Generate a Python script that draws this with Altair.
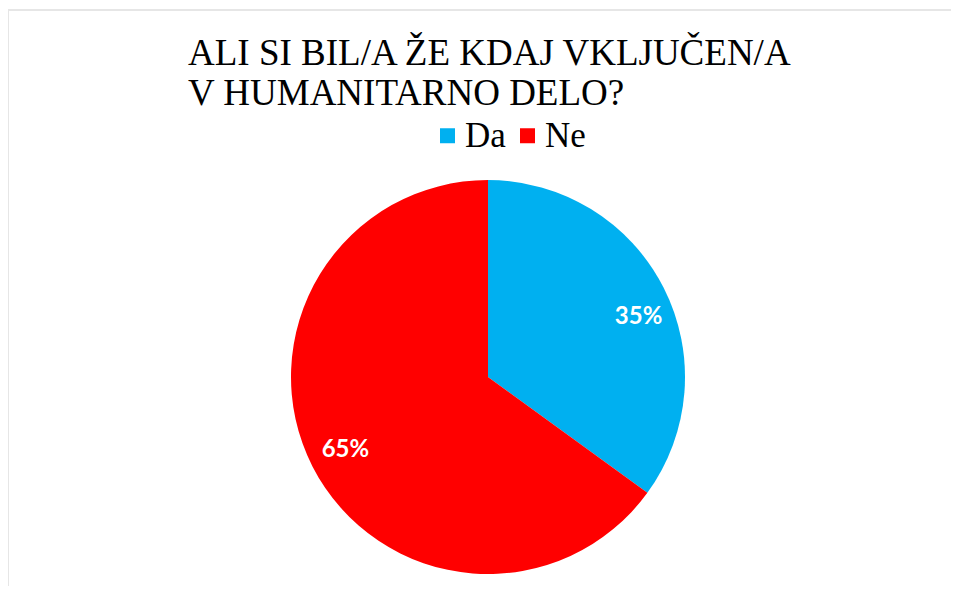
import altair as alt
import pandas as pd

# --- data ---
categories = ["Da", "Ne"]
values = [35, 65]
labels = ["35%", "65%"]
colors = ["#00B0F0", "#FF0000"]
title_lines = ["ALI SI BIL/A ŽE KDAJ VKLJUČEN/A", "V HUMANITARNO DELO?"]

W, H = 943, 578
CX, CY, R = 480, 369, 197
SERIF = "'Liberation Serif', 'Times New Roman', serif"

df = pd.DataFrame({"odgovor": categories, "delez": values, "oznaka": labels})
title_df = pd.DataFrame({"naslov": title_lines, "vrstica": list(range(len(title_lines)))})

color = alt.Color(
    "odgovor:N",
    scale=alt.Scale(domain=categories, range=colors),
    legend=alt.Legend(
        orient="none",
        legendX=422,
        legendY=110,
        direction="horizontal",
        title=None,
        symbolType="square",
        symbolSize=225,
        symbolStrokeWidth=0,
        labelFont=SERIF,
        labelFontSize=35,
        labelColor="#000000",
        labelOffset=0,
        columnPadding=4,
        padding=0,
    ),
)

pie = (
    alt.Chart(df)
    .mark_arc(radius=R, strokeWidth=0)
    .encode(
        theta=alt.Theta("delez:Q", stack=True),
        color=color,
        x=alt.value(CX),
        y=alt.value(CY),
    )
)

# label at the middle angle of each slice (computed after the full stack)
labels_base = (
    alt.Chart(df)
    .transform_window(kum="sum(delez)", frame=[None, 0])
    .transform_calculate(sredina="datum.kum - datum.delez / 2")
)
label_enc = dict(
    theta=alt.Theta("sredina:Q", stack=None),
    text="oznaka:N",
    x=alt.value(CX),
    y=alt.value(CY),
)
text_da = (
    labels_base.transform_filter(alt.datum.odgovor == categories[0])
    .mark_text(radius=160, font="Lato", fontWeight="bold", fontSize=24, fill="white", dx=8, dy=13)
    .encode(**label_enc)
)
text_ne = (
    labels_base.transform_filter(alt.datum.odgovor == categories[1])
    .mark_text(radius=160, font="Lato", fontWeight="bold", fontSize=24, fill="white")
    .encode(**label_enc)
)

title = alt.Chart(title_df).mark_text(
    align="left",
    baseline="alphabetic",
    font=SERIF,
    fontSize=37,
    color="#000000",
).encode(
    text="naslov:N",
    x=alt.value(180),
    y=alt.Y("vrstica:Q", scale=alt.Scale(domain=[0, 1], range=[57, 97]), axis=None),
)

top_rule = alt.Chart(title_df).mark_rule(color="#e6e6e6", strokeWidth=2).encode(
    x=alt.value(0), x2=alt.value(W), y=alt.value(2)
)
left_rule = alt.Chart(title_df).mark_rule(color="#e6e6e6", strokeWidth=2).encode(
    x=alt.value(0), y=alt.value(2), y2=alt.value(H)
)

chart = (
    alt.layer(top_rule, left_rule, pie, text_da, text_ne, title)
    .resolve_scale(theta="shared")
    .properties(width=W, height=H, padding=0, autosize="none", background="white")
    .configure_view(stroke=None)
)

chart.save("out.html", embed_options={"renderer": "svg", "actions": False})
